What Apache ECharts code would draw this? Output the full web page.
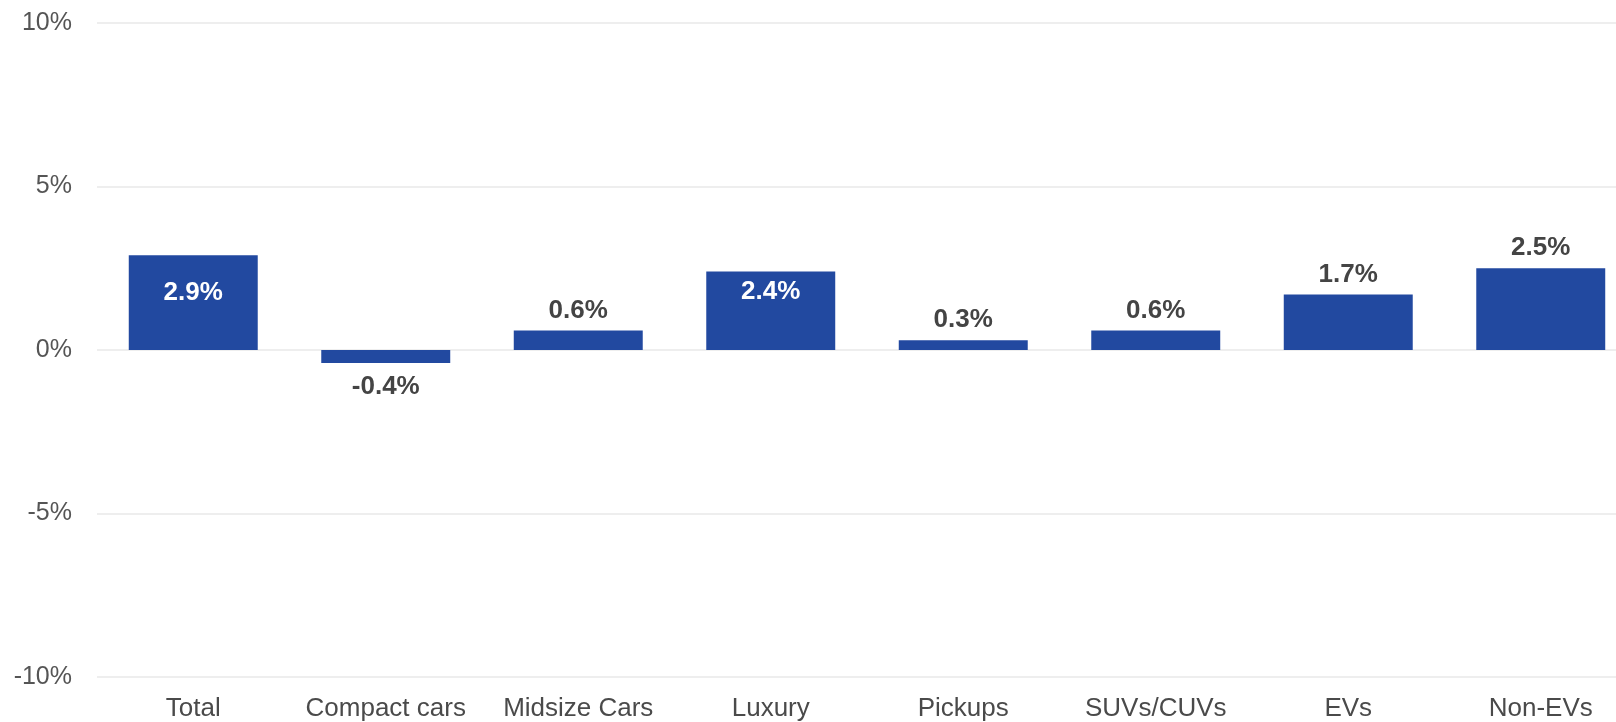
<!DOCTYPE html>
<html>
<head>
<meta charset="utf-8">
<title>Year-over-year change by segment</title>
<script src="https://cdn.jsdelivr.net/npm/echarts@6/dist/echarts.min.js"></script>
<style>
  html, body { margin: 0; padding: 0; background: #ffffff; }
  #chart { width: 1616px; height: 722px; }
</style>
</head>
<body>
<div id="chart"></div>
<script>
// Segment names along the x axis
const categories = ['Total', 'Compact cars', 'Midsize Cars', 'Luxury', 'Pickups', 'SUVs/CUVs', 'EVs', 'Non-EVs'];
// Percentage change per segment
const changes = [2.9, -0.4, 0.6, 2.4, 0.3, 0.6, 1.7, 2.5];
// Segments whose value label sits inside the bar
const insideLabels = ['Total', 'Luxury'];
// Y axis range and step (percent)
const yMin = -10;
const yMax = 10;
const yStep = 5;

const FONT = '"Liberation Sans", Arial, Helvetica, sans-serif';
const BAR_COLOR = '#2249a0';

const seriesData = changes.map((v, i) => {
  const item = { value: v };
  if (insideLabels.includes(categories[i])) {
    item.label = {
      position: 'insideTop',
      distance: i === 0 ? 25 : 7,
      color: '#ffffff'
    };
  } else if (v < 0) {
    item.label = { position: 'bottom', distance: 11 };
  }
  return item;
});

const chart = echarts.init(document.getElementById('chart'), null, { renderer: 'canvas' });
chart.setOption({
  backgroundColor: '#ffffff',
  animation: false,
  // the plot runs past the right edge, so the last band is partly clipped
  grid: { left: 97, right: -21, top: 23, bottom: 45, containLabel: false, outerBoundsMode: 'none' },
  xAxis: {
    type: 'category',
    data: categories,
    axisLine: { show: false },
    axisTick: { show: false },
    axisLabel: { interval: 0, margin: 19, fontFamily: FONT, fontSize: 26, color: '#4a4a4a' }
  },
  yAxis: {
    type: 'value',
    min: yMin,
    max: yMax,
    interval: yStep,
    axisLine: { show: false },
    axisTick: { show: false },
    axisLabel: { margin: 25, fontFamily: FONT, fontSize: 25, color: '#555555', formatter: '{value}%' },
    splitLine: { lineStyle: { color: '#e8e8e8', width: 1.5 } }
  },
  series: [{
    type: 'bar',
    data: seriesData,
    barCategoryGap: '33%',
    itemStyle: { color: BAR_COLOR },
    label: {
      show: true,
      position: 'top',
      distance: 7,
      fontFamily: FONT,
      fontSize: 26,
      fontWeight: 'bold',
      color: '#444444',
      formatter: p => p.value.toFixed(1) + '%'
    }
  }]
});
</script>
</body>
</html>
